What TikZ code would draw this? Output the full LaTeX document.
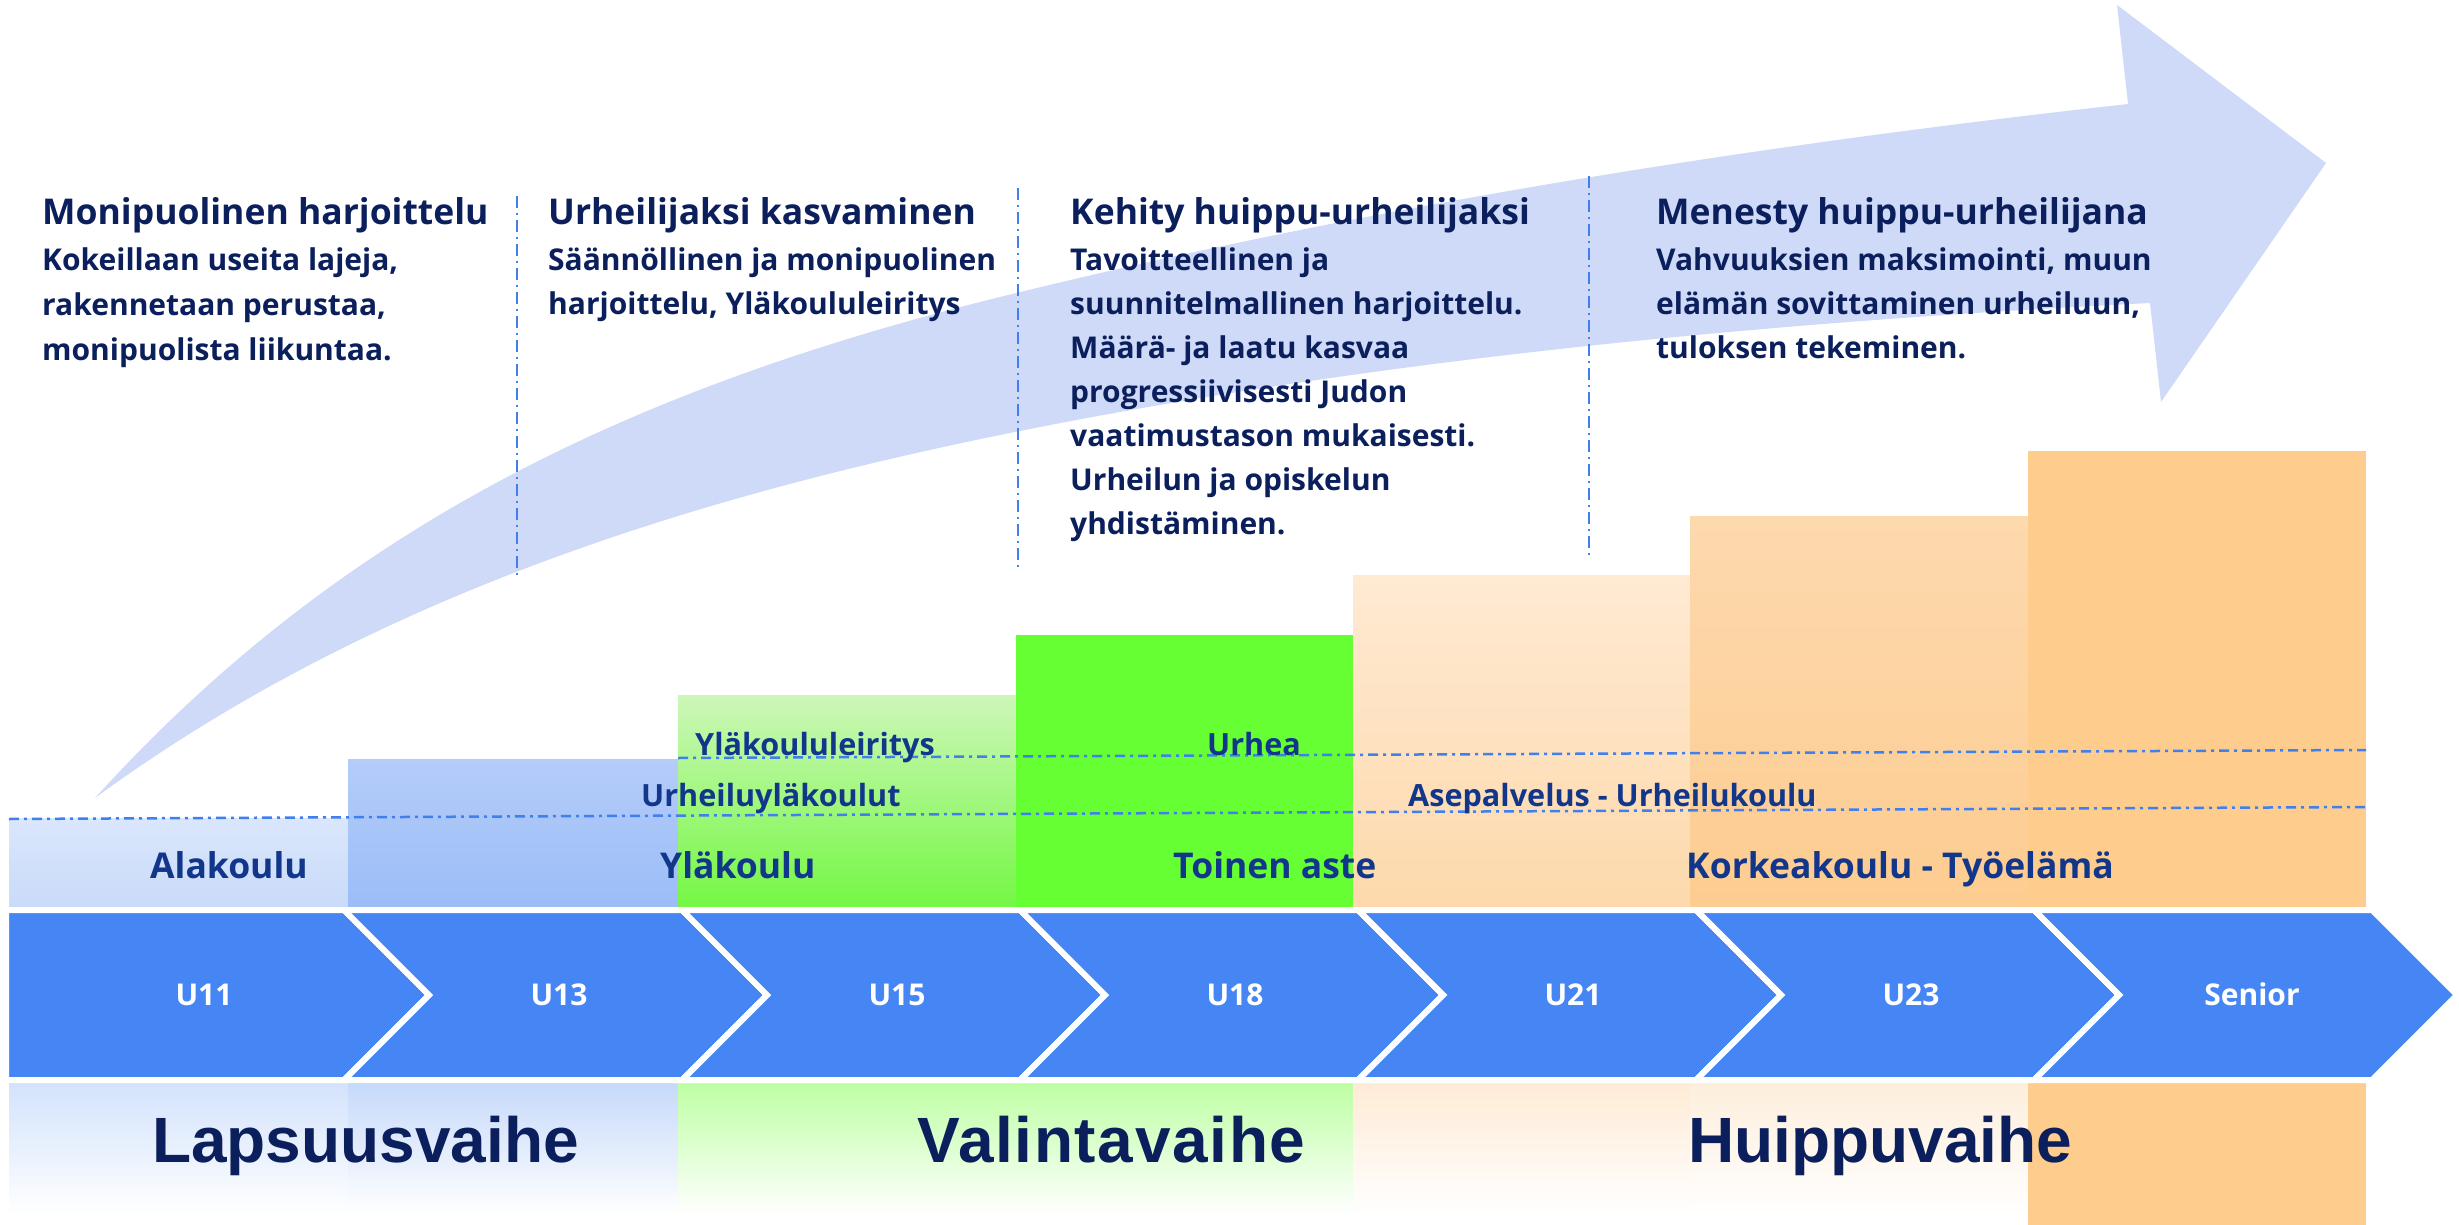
\documentclass[tikz,border=0pt]{standalone}
\usepackage{fontspec}
\setmainfont{Open Sans}
\newfontfamily\phasefont{Liberation Sans}
\IfFontExistsTF{Open Sans SemiBold}{\newfontfamily\semibf{Open Sans SemiBold}}{\newcommand\semibf{\bfseries}}
\definecolor{navy}{HTML}{0B1F5C}
\definecolor{labnavy}{HTML}{12378A}
\definecolor{chev}{HTML}{4586F4}
\definecolor{arrowc}{HTML}{CFDAF9}
\definecolor{dashc}{HTML}{3F7FEE}
\definecolor{blueA1}{HTML}{DAE6FC}
\definecolor{blueA2}{HTML}{C9DBF9}
\definecolor{blueB1}{HTML}{B4CCF9}
\definecolor{blueB2}{HTML}{9BBDF7}
\definecolor{greenA1}{HTML}{CDF7B8}
\definecolor{greenA2}{HTML}{74F744}
\definecolor{greenB}{HTML}{66FF33}
\definecolor{peachA1}{HTML}{FFEAD3}
\definecolor{peachA2}{HTML}{FDD9AC}
\definecolor{peachB1}{HTML}{FDD9AE}
\definecolor{peachB2}{HTML}{FDCC90}
\definecolor{orangeS}{HTML}{FECC8C}
\definecolor{botblue1}{HTML}{D3E2FC}
\definecolor{botblue2}{HTML}{C6D9FA}
\definecolor{botgreen}{HTML}{BDFFA3}
\definecolor{botpeach1}{HTML}{FEEBD6}
\definecolor{botpeach2}{HTML}{FDEEDB}
\begin{document}
\begin{tikzpicture}[x=1pt,y=-1pt,
  title/.style={font=\bfseries\fontsize{35.5}{40}\selectfont, text=navy, anchor=base west, inner sep=0pt},
  body/.style={font=\semibf\fontsize{30}{34}\selectfont, text=navy, anchor=base west, inner sep=0pt},
  barlab/.style={font=\semibf\fontsize{30.6}{34}\selectfont, text=labnavy, anchor=base west, inner sep=0pt},
  schoollab/.style={font=\bfseries\fontsize{35.5}{40}\selectfont, text=labnavy, anchor=base west, inner sep=0pt},
  agelab/.style={font=\bfseries\fontsize{30}{34}\selectfont, text=white, anchor=base, inner sep=0pt},
  phase/.style={font=\phasefont\bfseries\fontsize{64}{70}\selectfont, text=navy, anchor=base west, inner sep=0pt},
  chevron/.style={fill=chev, draw=white, line width=6pt, line join=miter},
  divider/.style={draw=dashc, line width=2pt, dash pattern=on 12pt off 5pt on 2pt off 5pt},
  hline/.style={draw=dashc, line width=2.5pt, dash pattern=on 10pt off 5pt on 3pt off 5pt}]
\useasboundingbox[fill=white] (0,0) rectangle (2459,1225);

% big curved arrow
\fill[arrowc] (95,798) .. controls (331,538) and (612,393) .. (1000,297)
  .. controls (1369,206) and (1750,146) .. (2128,104)
  -- (2117,5) -- (2326,163) -- (2161,402) -- (2150,303)
  .. controls (1770,322) and (1372,359) .. (1000,435)
  .. controls (677,501) and (361,603) .. (95,798) -- cycle;

% dividers
\coordinate (d1a) at (517,196); \coordinate (d1b) at (517,575);
\coordinate (d2a) at (1018,188); \coordinate (d2b) at (1018,568);
\coordinate (d3a) at (1589,176); \coordinate (d3b) at (1589,557);
\draw[divider] (d1a) -- (d1b);
\draw[divider] (d2a) -- (d2b);
\draw[divider] (d3a) -- (d3b);

% bars
\shade[top color=blueA1, bottom color=blueA2] (9,818) rectangle (348,907);
\shade[top color=blueB1, bottom color=blueB2] (348,759) rectangle (678,907);
\shade[top color=greenA1, bottom color=greenA2] (678,695) rectangle (1016,907);
\fill[greenB] (1016,635) rectangle (1353,907);
\shade[top color=peachA1, bottom color=peachA2] (1353,575) rectangle (1690,907);
\shade[top color=peachB1, bottom color=peachB2] (1690,516) rectangle (2028,907);
\fill[orangeS] (2028,451) rectangle (2366,907);

% dash-dot horizontal lines
\coordinate (hA1) at (9,819); \coordinate (hA2) at (2366,807);
\coordinate (hB1) at (678,758); \coordinate (hB2) at (2366,750);
\draw[hline] (hA1) -- (hA2);
\draw[hline] (hB1) -- (hB2);

% bar labels
\node[barlab] (lleir) at (695,755) {Yläkoululeiritys};
\node[barlab] (lurhyl) at (641,806) {Urheiluyläkoulut};
\node[barlab] (lurhea) at (1207,755) {Urhea};
\node[barlab] (lase) at (1408,806) {Asepalvelus - Urheilukoulu};
\node[schoollab] (lala) at (150,878) {Alakoulu};
\node[schoollab] (lyla) at (660,878) {Yläkoulu};
\node[schoollab] (ltoi) at (1173,878) {Toinen aste};
\node[schoollab] (lkor) at (1686,878) {Korkeakoulu - Työelämä};

% bottom band
\shade[top color=botblue1, bottom color=white] (9,1082) rectangle (348,1215);
\shade[top color=botblue2, bottom color=white] (348,1082) rectangle (678,1215);
\shade[top color=botgreen, bottom color=white] (678,1082) rectangle (1016,1215);
\shade[top color=botgreen, bottom color=white] (1016,1082) rectangle (1353,1215);
\shade[top color=botpeach1, bottom color=white] (1353,1082) rectangle (1690,1215);
\shade[top color=botpeach2, bottom color=white] (1690,1082) rectangle (2028,1215);
\fill[orangeS] (2028,1082) rectangle (2366,1225);

% chevrons
\filldraw[chevron] (6,910) -- (344,910) -- (429,995) -- (344,1080) -- (6,1080) -- cycle;
\foreach \i in {1,...,6} {
  \pgfmathsetmacro\a{344+338*(\i-1)}
  \pgfmathsetmacro\b{344+338*\i}
  \filldraw[chevron] (\a,910) -- (\b,910) -- (\b+85,995) -- (\b,1080) -- (\a,1080) -- (\a+85,995) -- cycle;
}
\node[agelab] (u11) at (204,1005) {U11};
\node[agelab] (u13) at (559,1005) {U13};
\node[agelab] (u15) at (897,1005) {U15};
\node[agelab] (u18) at (1235,1005) {U18};
\node[agelab] (u21) at (1573,1005) {U21};
\node[agelab] (u23) at (1911,1005) {U23};
\node[agelab] (sen) at (2252,1005) {Senior};

% phase labels
\node[phase] (ph1) at (152,1162) {Lapsuusvaihe};
\node[phase] (ph2) at (917,1162) {\addfontfeature{LetterSpace=2.6}Valintavaihe};
\node[phase] (ph3) at (1688,1162) {Huippuvaihe};

% column texts
\node[title] (t1) at (42,225) {Monipuolinen harjoittelu};
\node[body] (b1a) at (42,270) {Kokeillaan useita lajeja,};
\node[body] (b1b) at (42,315) {rakennetaan perustaa,};
\node[body] (b1c) at (42,360) {monipuolista liikuntaa.};

\node[title] (t2) at (548,225) {Urheilijaksi kasvaminen};
\node[body] (b2a) at (548,270) {Säännöllinen ja monipuolinen};
\node[body] (b2b) at (548,314) {harjoittelu, Yläkoululeiritys};

\node[title] (t3) at (1070,225) {Kehity huippu-urheilijaksi};
\node[body] (b3a) at (1070,270) {Tavoitteellinen ja};
\node[body] (b3b) at (1070,314) {suunnitelmallinen harjoittelu.};
\node[body] (b3c) at (1070,358) {Määrä- ja laatu kasvaa};
\node[body] (b3d) at (1070,402) {progressiivisesti Judon};
\node[body] (b3e) at (1070,446) {vaatimustason mukaisesti.};
\node[body] (b3f) at (1070,490) {Urheilun ja opiskelun};
\node[body] (b3g) at (1070,534) {yhdistäminen.};

\node[title] (t4) at (1656,225) {Menesty huippu-urheilijana};
\node[body] (b4a) at (1656,270) {Vahvuuksien maksimointi, muun};
\node[body] (b4b) at (1656,314) {elämän sovittaminen urheiluun,};
\node[body] (b4c) at (1656,358) {tuloksen tekeminen.};
\end{tikzpicture}
\end{document}
